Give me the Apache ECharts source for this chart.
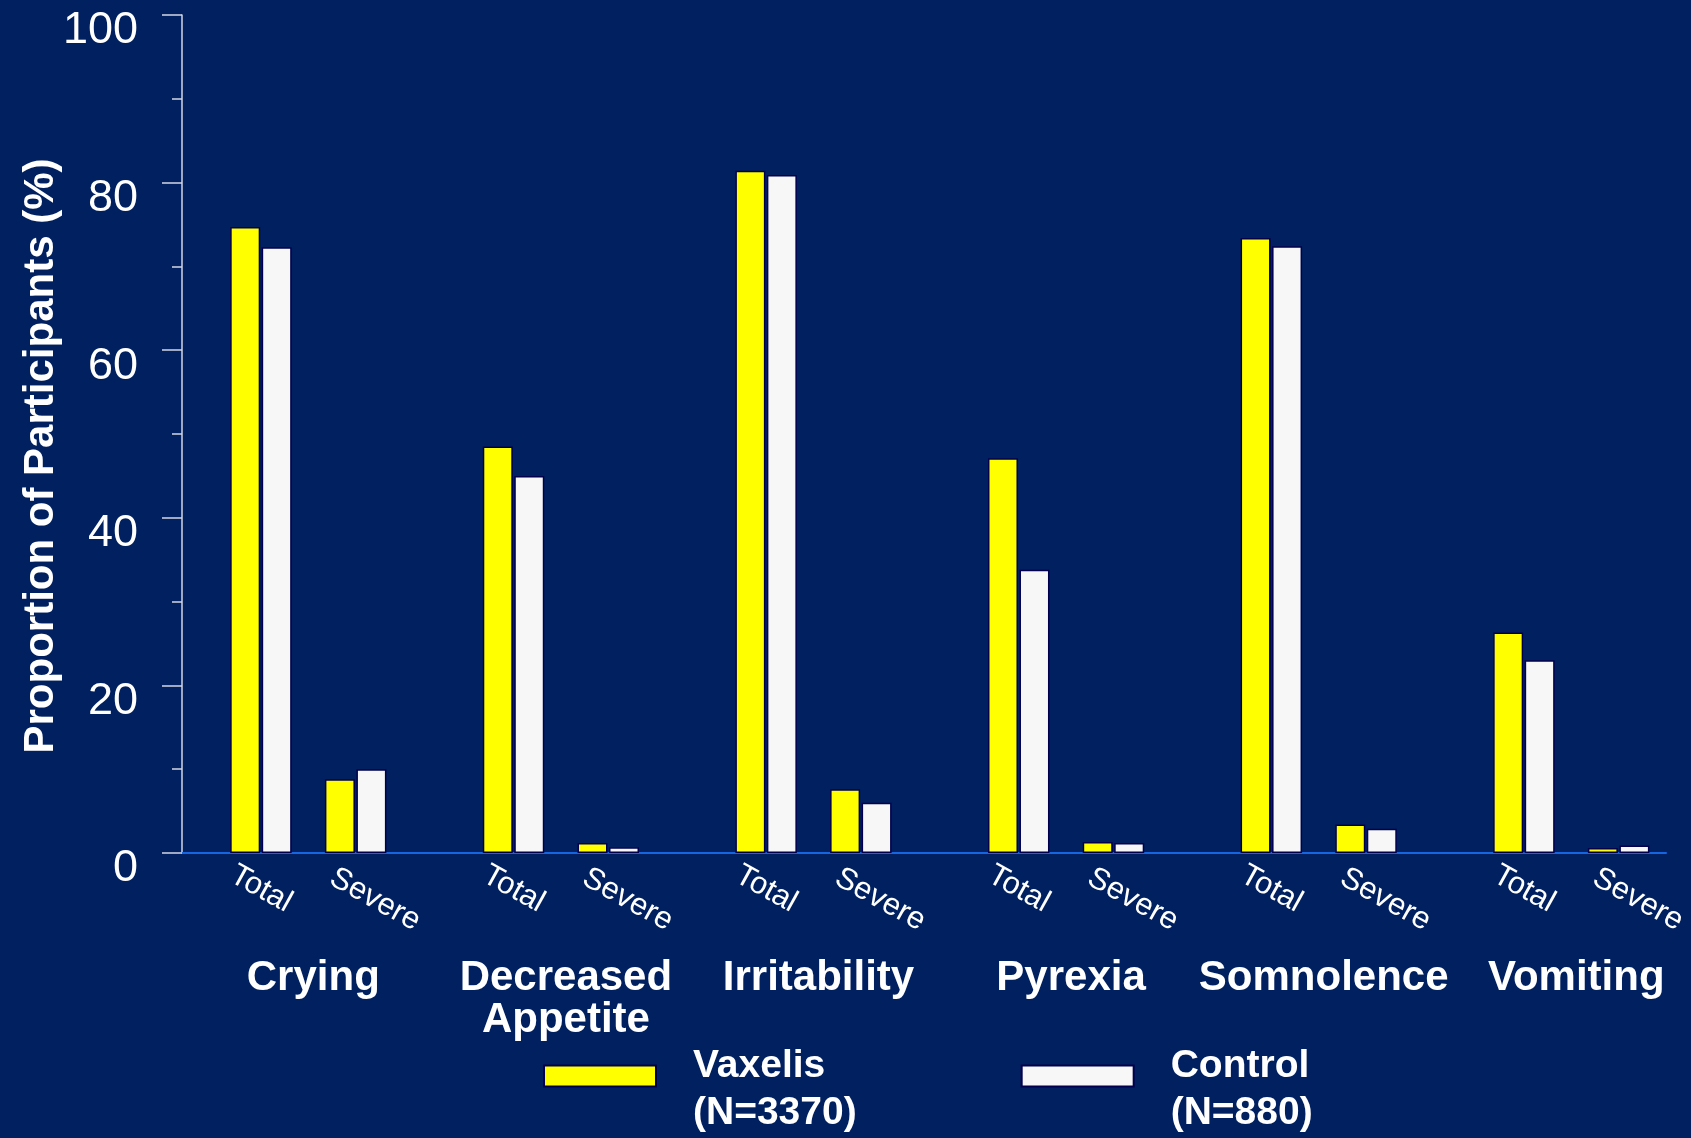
<!DOCTYPE html>
<html>
<head>
<meta charset="utf-8">
<title>Solicited Systemic Adverse Reactions</title>
<script src="https://cdn.jsdelivr.net/npm/echarts@6/dist/echarts.min.js"></script>
<style>
  html, body { margin: 0; padding: 0; background: #002060; }
  #chart { width: 1691px; height: 1138px; }
</style>
</head>
<body>
<div id="chart"></div>
<script>
// Reactions and the two bars shown under each one
const symptoms = ['Crying', 'Decreased\nAppetite', 'Irritability', 'Pyrexia', 'Somnolence', 'Vomiting'];
const severityLabels = ['Total', 'Severe'];

// Proportion of participants (%)
const vaxelisTotal  = [74.7, 48.5, 81.4, 47.1, 73.4, 26.3];
const vaxelisSevere = [8.8, 1.2, 7.6, 1.3, 3.4, 0.6];
const controlTotal  = [72.3, 45.0, 80.9, 33.8, 72.4, 23.0];
const controlSevere = [10.0, 0.7, 6.0, 1.2, 2.9, 0.9];

// Legend entries
const seriesNames = ['Vaxelis', 'Control'];
const seriesCounts = ['(N=3370)', '(N=880)'];

// Y axis ticks
const yMin = 0, yMax = 100, yStep = 20;

// Category slots: Total and Severe bars sit 3 slots apart, groups 8 slots apart
const LEAD = 2, SEVERE_STEP = 3, GROUP_SPAN = 8, TRAIL = 1;
const slotCount = LEAD + GROUP_SPAN * (symptoms.length - 1) + SEVERE_STEP + 1 + TRAIL;

const slotLabels = new Array(slotCount).fill('');
const vaxSlots = new Array(slotCount).fill('-');
const ctrlSlots = new Array(slotCount).fill('-');
const groupLabels = new Array(slotCount + 1).fill('');

symptoms.forEach((name, i) => {
  const t = LEAD + GROUP_SPAN * i;
  const s = t + SEVERE_STEP;
  slotLabels[t] = severityLabels[0];
  slotLabels[s] = severityLabels[1];
  vaxSlots[t] = vaxelisTotal[i];
  vaxSlots[s] = vaxelisSevere[i];
  ctrlSlots[t] = controlTotal[i];
  ctrlSlots[s] = controlSevere[i];
  groupLabels[t + (SEVERE_STEP + 1) / 2] = name;
});

const FONT = '"Liberation Sans", Arial, Helvetica, sans-serif';
const BORDER = '#00004e';

const chart = echarts.init(document.getElementById('chart'), null, { renderer: 'canvas' });

chart.setOption({
  backgroundColor: '#002060',
  animation: false,
  textStyle: { fontFamily: FONT },
  grid: {
    left: 182, right: 25, top: 15, bottom: 285,
    containLabel: false,
    outerBoundsMode: 'none'
  },
  legend: {
    show: true,
    data: seriesNames,
    left: 543,
    top: 1024,
    padding: 0,
    orient: 'horizontal',
    icon: 'rect',
    itemWidth: 112,
    itemHeight: 21,
    itemGap: 164,
    itemStyle: { borderColor: BORDER, borderWidth: 2 },
    // a short spacer line above the name lifts the text relative to the swatch
    formatter: name => '{gap| }\n{t|' + name + '}\n{t|' + seriesCounts[seriesNames.indexOf(name)] + '}',
    textStyle: {
      color: '#ffffff',
      fontFamily: FONT,
      fontSize: 39,
      fontWeight: 'bold',
      padding: [0, 0, 0, 32],
      rich: {
        gap: { fontSize: 10, lineHeight: 27 },
        t: { color: '#ffffff', fontFamily: FONT, fontSize: 39, fontWeight: 'bold', lineHeight: 47 }
      }
    },
    selectedMode: false
  },
  xAxis: [
    {
      type: 'category',
      data: slotLabels.map((_, k) => String(k)),
      position: 'bottom',
      axisLine: { show: true, onZero: false, lineStyle: { color: '#1566e0', width: 2 } },
      axisTick: { show: false },
      splitLine: { show: false },
      axisLabel: {
        interval: 0,
        rotate: -29,
        align: 'center',
        verticalAlign: 'middle',
        margin: 36,
        color: '#ffffff',
        fontFamily: FONT,
        fontSize: 31,
        formatter: (value, index) => {
          const txt = slotLabels[index];
          if (txt === severityLabels[1]) return '{sev|' + txt + '}';
          return txt;
        },
        rich: {
          sev: { color: '#ffffff', fontFamily: FONT, fontSize: 31, padding: [0, 0, 0, 44] }
        }
      }
    },
    {
      type: 'category',
      data: groupLabels.map((_, k) => 'g' + k),
      boundaryGap: false,
      position: 'bottom',
      axisLine: { show: false },
      axisTick: { show: false },
      splitLine: { show: false },
      axisLabel: {
        interval: 0,
        margin: 104,
        color: '#ffffff',
        fontFamily: FONT,
        fontSize: 42,
        fontWeight: 'bold',
        lineHeight: 42,
        align: 'center',
        verticalAlign: 'top',
        padding: [0, 0, 0, 10],
        formatter: (value, index) => groupLabels[index]
      }
    }
  ],
  yAxis: {
    type: 'value',
    min: yMin,
    max: yMax,
    interval: yStep,
    position: 'left',
    axisLine: { show: true, lineStyle: { color: '#d4d6e4', width: 1.5 } },
    axisTick: { show: true, inside: false, length: 20, lineStyle: { color: '#d4d6e4', width: 1.5 } },
    minorTick: { show: true, splitNumber: 2, length: 10, lineStyle: { color: '#d4d6e4', width: 1.5 } },
    splitLine: { show: false },
    minorSplitLine: { show: false },
    axisLabel: {
      color: '#ffffff',
      fontFamily: FONT,
      fontSize: 45,
      margin: 44,
      // tick values sit a little below their tick marks
      verticalAlign: 'top',
      lineHeight: 32
    },
    name: 'Proportion of Participants (%)',
    nameLocation: 'middle',
    nameRotate: 90,
    nameGap: 120,
    nameMoveOverlap: false,
    nameTextStyle: {
      color: '#ffffff',
      fontFamily: FONT,
      fontSize: 42,
      fontWeight: 'bold',
      padding: [0, 44, 0, 0]
    }
  },
  series: [
    {
      name: seriesNames[0],
      type: 'bar',
      xAxisIndex: 0,
      data: vaxSlots,
      barWidth: 30,
      barGap: '5%',
      itemStyle: { color: '#ffff00', borderColor: BORDER, borderWidth: 1.5 },
      emphasis: { disabled: true }
    },
    {
      name: seriesNames[1],
      type: 'bar',
      xAxisIndex: 0,
      data: ctrlSlots,
      barWidth: 30,
      barGap: '5%',
      itemStyle: { color: '#f7f7f7', borderColor: BORDER, borderWidth: 1.5 },
      emphasis: { disabled: true }
    }
  ]
});
</script>
</body>
</html>
